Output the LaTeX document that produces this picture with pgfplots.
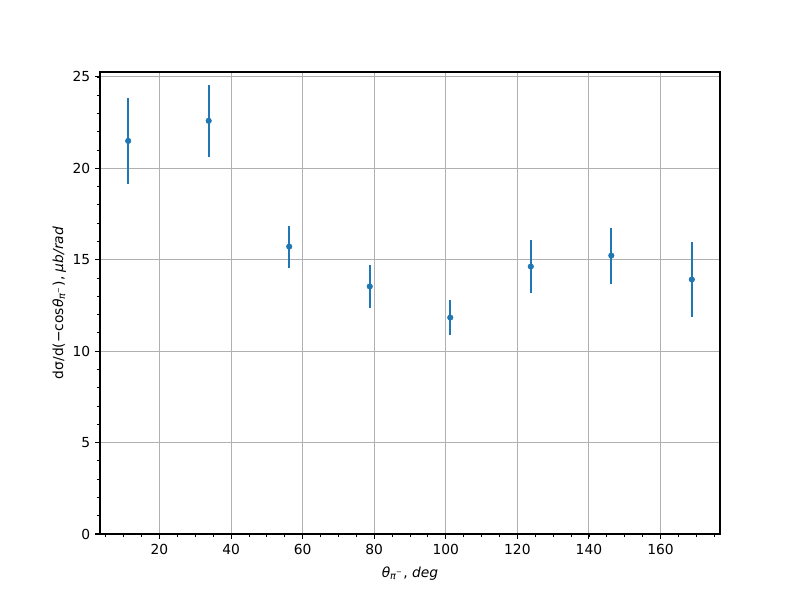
\documentclass[border=0pt]{standalone}
\usepackage{fontspec}
\setmainfont{DejaVu Sans}
\usepackage{pgfplots}
\pgfplotsset{compat=1.18}
\definecolor{mplblue}{HTML}{1F77B4}
\definecolor{mplgrid}{HTML}{B0B0B0}

\begin{document}
\begin{tikzpicture}
\path (-1in,-0.66in) rectangle (7in,5.34in);
\begin{axis}[
    at={(0,0)}, anchor=south west,
    scale only axis,
    width=6.2in, height=4.62in,
    xmin=3.375, xmax=176.625,
    ymin=0, ymax=25.27,
    xtick={20,40,...,160},
    ytick={0,5,...,25},
    minor xtick={5,10,...,175},
    minor ytick={0,1,...,25},
    tick align=outside,
    tick pos=left,
    major tick length=3.5pt,
    minor tick length=2pt,
    every major tick/.style={black, line width=0.8pt},
    every minor tick/.style={black, line width=0.6pt},
    axis line style={line width=0.8pt},
    grid=major,
    major grid style={mplgrid, line width=0.8pt},
    font=\fontsize{10pt}{12pt}\selectfont,
    /pgf/number format/assume math mode=true,
    xlabel={\textit{θ}\textsubscript{\textit{π}\textsuperscript{−}}, \textit{deg}},
    ylabel={dσ/d(−cos\textit{θ}\textsubscript{\textit{π}\textsuperscript{−}}), \textit{μb/rad}},
    xlabel style={yshift=-2pt},
    ylabel style={yshift=-2pt},
]
\addplot[mplblue, only marks, mark=*, mark size=2pt,
    error bars/.cd, y dir=both, y explicit,
    error mark=none,
    error bar style={mplblue, line width=1.5pt}]
coordinates {
    (11.25, 21.50) +- (0, 2.35)
    (33.75, 22.60) +- (0, 1.97)
    (56.25, 15.72) +- (0, 1.15)
    (78.75, 13.54) +- (0, 1.20)
    (101.25, 11.84) +- (0, 0.98)
    (123.75, 14.63) +- (0, 1.47)
    (146.25, 15.23) +- (0, 1.53)
    (168.75, 13.92) +- (0, 2.05)
};
\end{axis}
\end{tikzpicture}
\end{document}
